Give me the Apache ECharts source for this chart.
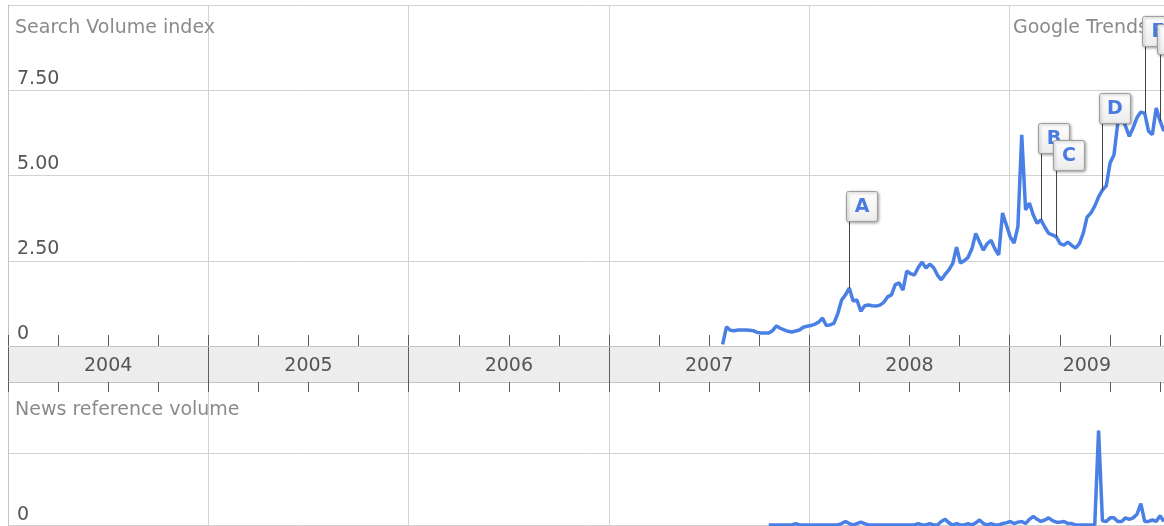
<!DOCTYPE html>
<html><head><meta charset="utf-8">
<script src="https://cdn.jsdelivr.net/npm/echarts@6/dist/echarts.min.js"></script>
<style>html,body{margin:0;padding:0;background:#fff}#c{width:1164px;height:526px}</style>
</head><body><div id="c"></div>
<script>
// ---- data ----
const weekStart = '2007-07-27';
const searchVolume = [
  0.05,0.56,0.46,0.45,0.47,0.47,0.47,0.46,0.45,0.40,
  0.38,0.38,0.38,0.45,0.59,0.52,0.47,0.43,0.41,0.44,
  0.47,0.55,0.58,0.60,0.64,0.70,0.82,0.60,0.62,0.67,
  0.95,1.35,1.50,1.70,1.32,1.35,1.02,1.18,1.20,1.18,
  1.17,1.20,1.28,1.44,1.50,1.80,1.85,1.64,2.20,2.12,
  2.08,2.30,2.46,2.29,2.40,2.30,2.08,1.94,2.10,2.23,
  2.42,2.90,2.43,2.50,2.60,2.85,3.30,3.05,2.81,3.00,
  3.10,2.85,2.67,3.90,3.55,3.20,3.02,3.50,6.19,3.99,
  4.19,3.84,3.60,3.70,3.49,3.30,3.26,3.20,3.00,2.96,
  3.05,2.95,2.87,3.00,3.30,3.78,3.90,4.10,4.37,4.57,
  4.70,5.37,5.60,6.54,6.77,6.45,6.15,6.40,6.70,6.86,
  6.83,6.30,6.20,6.98,6.60,6.30
];
const newsVolume = [
  null,null,null,null,null,null,null,null,null,null,
  null,null,0,0,0,0,0,0,0,0.02,
  0,0,0,0,0,0,0,0,0,0,
  0,0.02,0.05,0.02,0,0.02,0.04,0.02,0,0,
  0,0,0,0,0,0,0,0,0,0,
  0,0.02,0,0,0.02,0,0,0.05,0.08,0.03,
  0,0.02,0,0,0.02,0,0.03,0.07,0.02,0,
  0.02,0,0,0.02,0.03,0.05,0.02,0.04,0.05,0.02,
  0.08,0.12,0.08,0.05,0.07,0.10,0.06,0.04,0.04,0.05,
  0.02,0.02,0,0,0,0,0,0,1.32,0.06,
  0.05,0.10,0.10,0.05,0.05,0.10,0.08,0.10,0.15,0.30,
  0.05,0.05,0.07,0.05,0.13,0.05
];
const yearLabels = ['2004','2005','2006','2007','2008','2009'];
const searchTickLabels = {0:'0', 2.5:'2.50', 5:'5.00', 7.5:'7.50'};
const newsTickLabels = {0:'0'};
const annLetters = ['A','B','C','D','E','F'];
const annWeeks = [33, 83, 87, 99, 110, 114];

// ---- helpers ----
function decYear(i){
  const t = Date.parse(weekStart + 'T00:00:00Z') + i * 7 * 864e5;
  const d = new Date(t);
  const y = d.getUTCFullYear();
  const s = Date.UTC(y,0,1), e = Date.UTC(y+1,0,1);
  return y + (t - s) / (e - s);
}
const FONT = '"DejaVu Sans", "Lucida Grande", sans-serif';
const GRIDC = '#d2d2d2';
const TICKC = '#5a5a5a';
const XMIN = 2004, XMAX = 2010;
const LEFT = 8, WIDTH = 1202;

const searchData = searchVolume.map((v,i)=>[decYear(i), v]);
const newsData = newsVolume.map((v,i)=>[decYear(i), v]);
const annData = annWeeks.map(w=>[decYear(w), searchVolume[w]]);

const chart = echarts.init(document.getElementById('c'), null, {renderer:'canvas'});
chart.setOption({
  animation:false,
  backgroundColor:'#fff',
  title:[
    {text:'Search Volume index', left:15, top:19, padding:0, textStyle:{fontFamily:FONT, fontSize:19, fontWeight:'normal', color:'#8a8a8a'}},
    {text:'Google Trends', left:1013, top:19, padding:0, textStyle:{fontFamily:FONT, fontSize:19, fontWeight:'normal', color:'#8a8a8a'}},
    {text:'News reference volume', left:15, top:401, padding:0, textStyle:{fontFamily:FONT, fontSize:19, fontWeight:'normal', color:'#8a8a8a'}}
  ],
  grid:[
    {left:LEFT, width:WIDTH, top:5, height:341, containLabel:false, outerBoundsMode:'none'},
    {left:LEFT, width:WIDTH, top:346, height:36, show:true, backgroundColor:'#ededed', borderWidth:0, containLabel:false, outerBoundsMode:'none'},
    {left:LEFT, width:WIDTH, top:382, height:143, containLabel:false, outerBoundsMode:'none'}
  ],
  xAxis:[
    {gridIndex:0, type:'value', min:XMIN, max:XMAX, interval:1, position:'bottom',
     axisLine:{show:true, lineStyle:{color:'#c4c4c4'}},
     axisTick:{show:true, inside:true, length:11, lineStyle:{color:TICKC}},
     minorTick:{show:true, splitNumber:4, length:11, lineStyle:{color:TICKC}},
     axisLabel:{show:false},
     splitLine:{show:true, lineStyle:{color:GRIDC}}},
    {gridIndex:1, type:'value', min:XMIN, max:XMAX, interval:1, position:'bottom',
     axisLine:{show:true, lineStyle:{color:'#c4c4c4'}},
     axisTick:{show:true, inside:false, length:10, lineStyle:{color:TICKC}},
     minorTick:{show:true, splitNumber:4, length:10, lineStyle:{color:TICKC}},
     axisLabel:{show:false},
     splitLine:{show:true, lineStyle:{color:'#5e5e5e'}}},
    {gridIndex:1, type:'value', min:XMIN, max:XMAX, interval:0.5, position:'top',
     axisLine:{show:false}, axisTick:{show:false}, splitLine:{show:false},
     axisLabel:{show:true, inside:true, margin:11, fontFamily:FONT, fontSize:19, color:'#555',
       formatter:function(v){
         const f = v - Math.floor(v);
         if (Math.abs(f-0.5) > 1e-6) return '';
         const idx = Math.floor(v) - XMIN;
         const t = yearLabels[idx];
         if (!t) return '';
         return idx === yearLabels.length-1 ? '{s|'+t+'}' : t;
       },
       rich:{s:{fontFamily:FONT, fontSize:19, color:'#555', padding:[0,46,0,0]}}}},
    {gridIndex:2, type:'value', min:XMIN, max:XMAX, interval:1, position:'bottom',
     axisLine:{show:false}, axisTick:{show:false}, axisLabel:{show:false},
     splitLine:{show:true, lineStyle:{color:GRIDC}}}
  ],
  yAxis:[
    {gridIndex:0, type:'value', min:0, max:10, interval:2.5,
     axisLine:{show:true, lineStyle:{color:'#c4c4c4'}}, axisTick:{show:false},
     splitLine:{show:true, lineStyle:{color:GRIDC}},
     axisLabel:{show:true, inside:true, margin:9, verticalAlign:'bottom', padding:[0,0,2,0],
       fontFamily:FONT, fontSize:19, color:'#555',
       formatter:function(v){ return searchTickLabels[v] !== undefined ? searchTickLabels[v] : ''; }}},
    {gridIndex:1, type:'value', min:0, max:1, show:false},
    {gridIndex:2, type:'value', min:0, max:2, interval:1,
     axisLine:{show:true, lineStyle:{color:'#c4c4c4'}}, axisTick:{show:false},
     splitLine:{show:true, lineStyle:{color:GRIDC}},
     axisLabel:{show:true, inside:true, margin:9, verticalAlign:'bottom', padding:[0,0,0,0],
       fontFamily:FONT, fontSize:19, color:'#555',
       formatter:function(v){ return newsTickLabels[v] !== undefined ? newsTickLabels[v] : ''; }}}
  ],
  series:[
    {type:'line', name:'Search Volume index', xAxisIndex:0, yAxisIndex:0, data:searchData,
     showSymbol:false, symbol:'none', lineStyle:{color:'#4a80e6', width:3.5}, z:3},
    {type:'line', name:'News reference volume', xAxisIndex:3, yAxisIndex:2, data:newsData,
     showSymbol:false, symbol:'none', connectNulls:false, lineStyle:{color:'#4a80e6', width:3.5}, z:3},
    {type:'custom', name:'events', xAxisIndex:0, yAxisIndex:0, data:annData, z:10, clip:false,
     renderItem:function(params, api){
       const p = api.coord([api.value(0), api.value(1)]);
       const stem = 67, w = 31, h = 30;
       const bx = Math.round(p[0]) - 2.5, by = Math.round(p[1] - stem - h) + 0.5;
       const x = Math.round(p[0]) + 0.5;
       return {type:'group', children:[
         {type:'line', shape:{x1:x, y1:p[1], x2:x, y2:by+h}, style:{stroke:'#444', lineWidth:1}},
         {type:'rect', shape:{x:bx, y:by, width:w, height:h, r:2},
          style:{fill:{type:'linear', x:0, y:0, x2:0, y2:1, colorStops:[{offset:0, color:'#ffffff'},{offset:1, color:'#ececec'}]},
                 stroke:'#a0a0a0', lineWidth:1, shadowBlur:3, shadowColor:'rgba(0,0,0,0.35)', shadowOffsetX:1, shadowOffsetY:1}},
         {type:'text', style:{text:annLetters[params.dataIndex], x:bx+w/2, y:by+h/2+1, align:'center', verticalAlign:'middle',
          fill:'#4a7be0', font:'bold 19px ' + FONT}}
       ]};
     }}
  ]
});
</script></body></html>
